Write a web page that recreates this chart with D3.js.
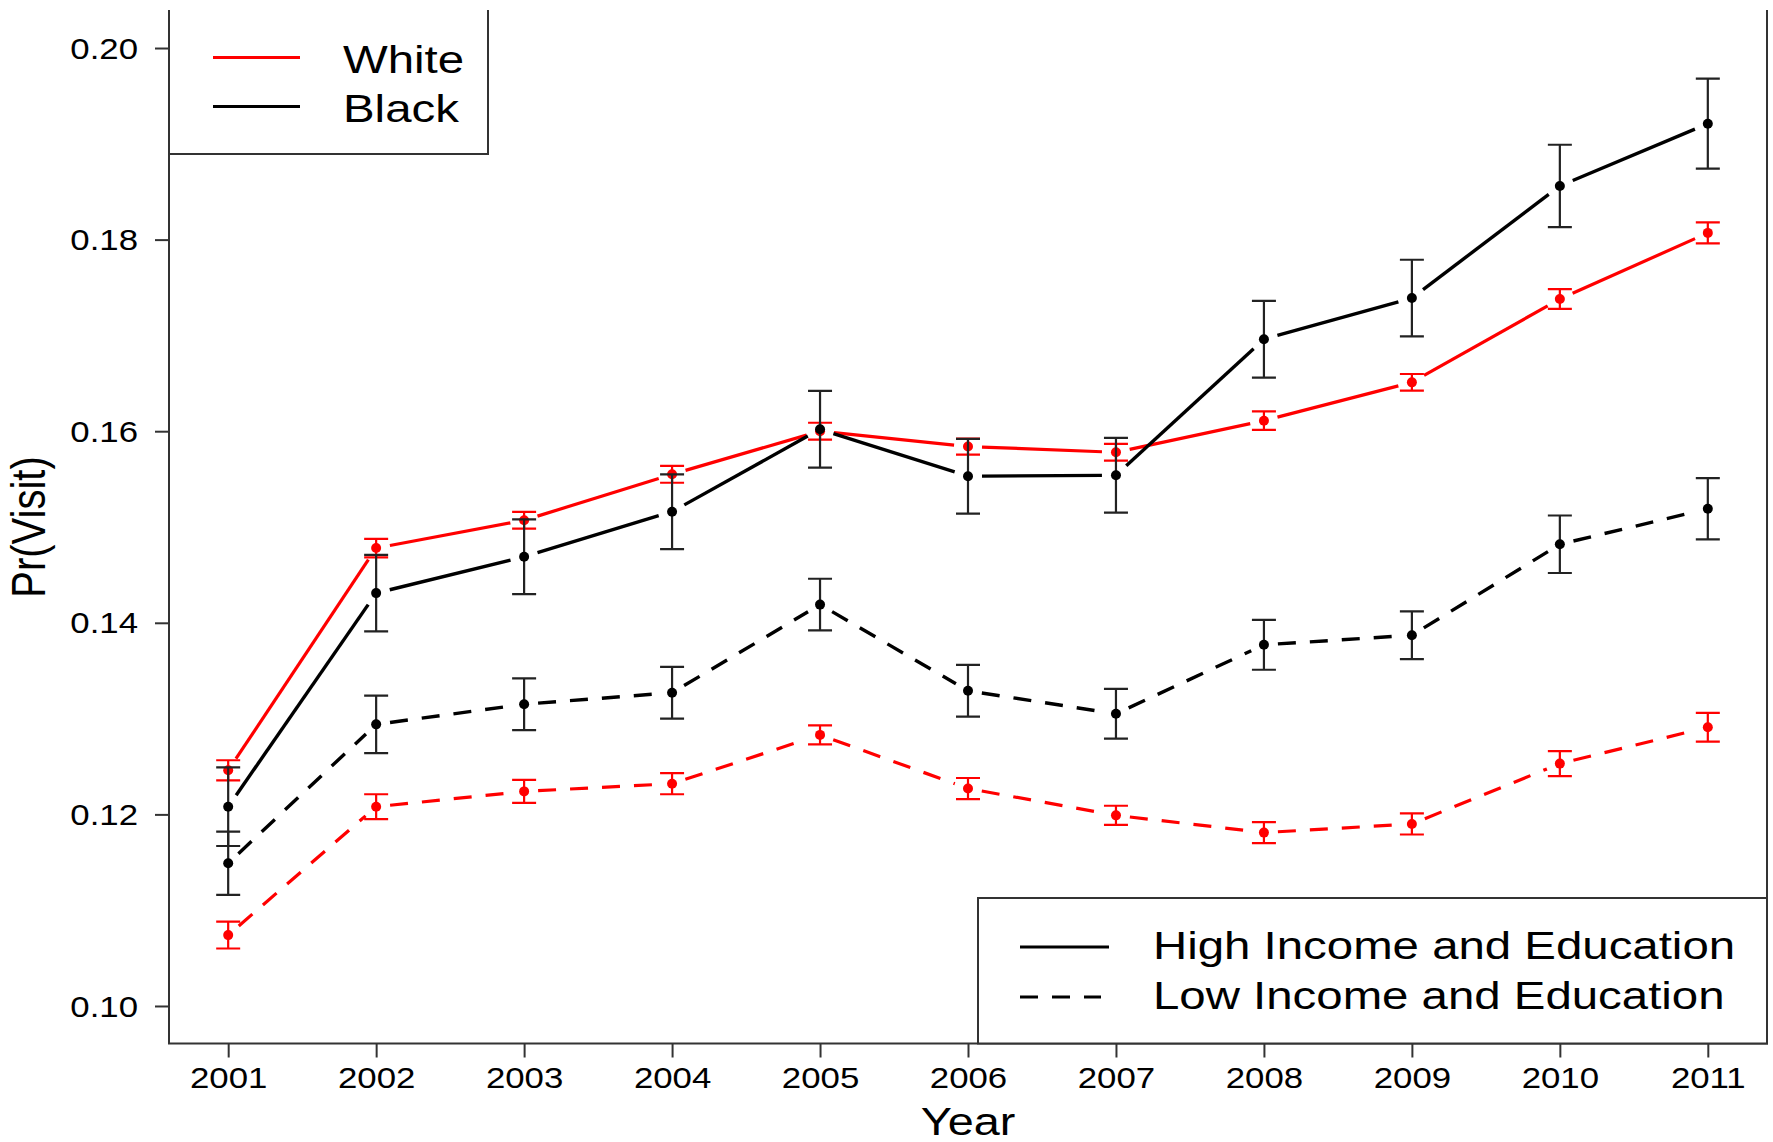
<!DOCTYPE html>
<html>
<head>
<meta charset="utf-8">
<script src="https://cdn.jsdelivr.net/npm/d3@7"></script>
<style>
  html, body { margin: 0; padding: 0; background: #fff; }
  svg { display: block; font-family: "Liberation Sans", Arial, sans-serif; }
</style>
</head>
<body>
<svg id="chart" width="1773" height="1142"></svg>
<script>
// Years on the x axis
const years = [2001, 2002, 2003, 2004, 2005, 2006, 2007, 2008, 2009, 2010, 2011];
const yTicks = [0.10, 0.12, 0.14, 0.16, 0.18, 0.20];

// Predicted probability of a visit, with standard-error half-widths
const whiteHigh   = [0.1246, 0.1478, 0.1507, 0.1555, 0.1600, 0.1584, 0.1578, 0.1611, 0.1651, 0.1738, 0.1807];
const whiteHighSE = [0.00105, 0.00097, 0.00087, 0.00088, 0.00088, 0.00084, 0.00087, 0.00097, 0.00087, 0.00104, 0.0011];

const blackHigh   = [0.1208, 0.1431, 0.1469, 0.1516, 0.1602, 0.1553, 0.1554, 0.1696, 0.1739, 0.1856, 0.1921];
const blackHighSE = [0.0041, 0.0040, 0.0039, 0.0039, 0.0040, 0.0039, 0.0039, 0.0040, 0.0040, 0.0043, 0.0047];

const whiteLow    = [0.1074, 0.1208, 0.1224, 0.1232, 0.1283, 0.1227, 0.1199, 0.1181, 0.1190, 0.1253, 0.1291];
const whiteLowSE  = [0.0014, 0.0013, 0.0012, 0.0011, 0.0010, 0.0011, 0.0010, 0.0011, 0.0011, 0.0013, 0.0015];

const blackLow    = [0.1149, 0.1294, 0.1315, 0.1327, 0.1419, 0.1329, 0.1305, 0.1377, 0.1387, 0.1482, 0.1519];
const blackLowSE  = [0.0033, 0.0030, 0.0027, 0.0027, 0.0027, 0.0027, 0.0026, 0.0026, 0.0025, 0.0030, 0.0032];

const raceLegend = ["White", "Black"];
const groupLegend = ["High Income and Education", "Low Income and Education"];

const RED = "#ff0000", BLK = "#000000", FRAME = "#333333";
const SX = 1.2;            // horizontal text stretch
const DASH = "18,14";

const svg = d3.select("#chart");

const plot = { left: 169, right: 1767, top: 9.7, bottom: 1044.3 };
const x = d3.scaleLinear().domain([2000.6, 2011.4]).range([plot.left, plot.right]);
const y = d3.scaleLinear().domain([0.096, 0.204]).range([plot.bottom, plot.top]);

// ---- axes ----
const yAxis = svg.append("g")
  .attr("transform", `translate(${plot.left},0)`)
  .call(d3.axisLeft(y).tickValues(yTicks).tickFormat(d3.format(".2f")).tickSize(14).tickSizeOuter(0));
yAxis.select(".domain").remove();
yAxis.selectAll(".tick line").attr("stroke", FRAME).attr("stroke-width", 2);
yAxis.selectAll(".tick text")
  .attr("x", null).attr("dy", "0.35em")
  .attr("transform", `translate(-31,0) scale(${SX},1)`)
  .attr("font-size", 29).attr("fill", "#000")
  .attr("font-family", "Liberation Sans, Arial, sans-serif");

const xAxis = svg.append("g")
  .attr("transform", `translate(0,1043.5)`)
  .call(d3.axisBottom(x).tickValues(years).tickFormat(d3.format("d")).tickSize(14).tickSizeOuter(0));
xAxis.select(".domain").remove();
xAxis.selectAll(".tick line").attr("stroke", FRAME).attr("stroke-width", 2);
xAxis.selectAll(".tick text")
  .attr("y", null).attr("dy", null)
  .attr("transform", `translate(0,44) scale(${SX},1)`)
  .attr("font-size", 29).attr("fill", "#000")
  .attr("font-family", "Liberation Sans, Arial, sans-serif");

// frame (top edge sits above the visible area)
svg.append("path")
  .attr("d", `M${plot.left},10 V1043.5 H${plot.right} V10`)
  .attr("fill", "none").attr("stroke", FRAME).attr("stroke-width", 2);

// axis titles
svg.append("text")
  .attr("transform", `translate(968,1135) scale(${SX},1)`)
  .attr("text-anchor", "middle").attr("font-size", 39).text("Year");
svg.append("text")
  .attr("transform", `translate(45,527) scale(${SX},1) rotate(-90)`)
  .attr("text-anchor", "middle").attr("font-size", 40).text("Pr(Visit)");

// ---- series ----
const series = [
  { vals: whiteHigh, se: whiteHighSE, color: RED, dash: null, bar: RED, w: 3.2 },
  { vals: whiteLow,  se: whiteLowSE,  color: RED, dash: DASH, bar: RED, w: 3.2 },
  { vals: blackHigh, se: blackHighSE, color: BLK, dash: null, bar: "#222", w: 3.4 },
  { vals: blackLow,  se: blackLowSE,  color: BLK, dash: DASH, bar: "#222", w: 3.4 }
];

const GAP = 14;      // space left around each point along the line
const CAP = 12;      // half-width of error-bar caps
const line = d3.line();

series.forEach(s => {
  const g = svg.append("g");
  const pts = years.map((yr, i) => [x(yr), y(s.vals[i])]);

  // line segments between consecutive points, stopping short of the markers
  for (let i = 0; i < pts.length - 1; i++) {
    const [x0, y0] = pts[i], [x1, y1] = pts[i + 1];
    const len = Math.hypot(x1 - x0, y1 - y0);
    const ux = (x1 - x0) / len, uy = (y1 - y0) / len;
    g.append("path")
      .attr("d", line([[x0 + ux * GAP, y0 + uy * GAP], [x1 - ux * GAP, y1 - uy * GAP]]))
      .attr("fill", "none")
      .attr("stroke", s.color)
      .attr("stroke-width", s.w)
      .attr("stroke-dasharray", s.dash);
  }

  // error bars
  years.forEach((yr, i) => {
    const cx = x(yr), lo = y(s.vals[i] - s.se[i]), hi = y(s.vals[i] + s.se[i]);
    g.append("path")
      .attr("d", `M${cx},${lo} V${hi} M${cx - CAP},${hi} H${cx + CAP} M${cx - CAP},${lo} H${cx + CAP}`)
      .attr("fill", "none").attr("stroke", s.bar).attr("stroke-width", 2.2);
  });

  // point markers
  g.selectAll("circle").data(years).join("circle")
    .attr("cx", d => x(d))
    .attr("cy", (d, i) => y(s.vals[i]))
    .attr("r", 5)
    .attr("fill", s.color);
});

// ---- legend: race ----
const lg1 = svg.append("g");
lg1.append("path")
  .attr("d", `M${plot.left},10 V154 H488 V10`)
  .attr("fill", "#fff").attr("stroke", FRAME).attr("stroke-width", 2);
[RED, BLK].forEach((c, i) => {
  const ly = 57.5 + i * 49;
  lg1.append("line").attr("x1", 213).attr("x2", 300).attr("y1", ly).attr("y2", ly)
    .attr("stroke", c).attr("stroke-width", 3.2);
  lg1.append("text")
    .attr("transform", `translate(343,${ly + 15.5}) scale(${SX},1)`)
    .attr("font-size", 39.5).text(raceLegend[i]);
});

// ---- legend: income / education ----
const lg2 = svg.append("g");
lg2.append("rect")
  .attr("x", 978).attr("y", 898).attr("width", plot.right - 978).attr("height", 1043.5 - 898)
  .attr("fill", "#fff").attr("stroke", FRAME).attr("stroke-width", 2);
[null, DASH].forEach((d, i) => {
  const ly = 947 + i * 50;
  lg2.append("line").attr("x1", 1020).attr("x2", i === 0 ? 1109 : 1101).attr("y1", ly).attr("y2", ly)
    .attr("stroke", BLK).attr("stroke-width", 3.2).attr("stroke-dasharray", d);
  lg2.append("text")
    .attr("transform", `translate(1153,${ly + 11.5}) scale(${SX},1)`)
    .attr("font-size", 39.5).text(groupLegend[i]);
});
</script>
</body>
</html>
